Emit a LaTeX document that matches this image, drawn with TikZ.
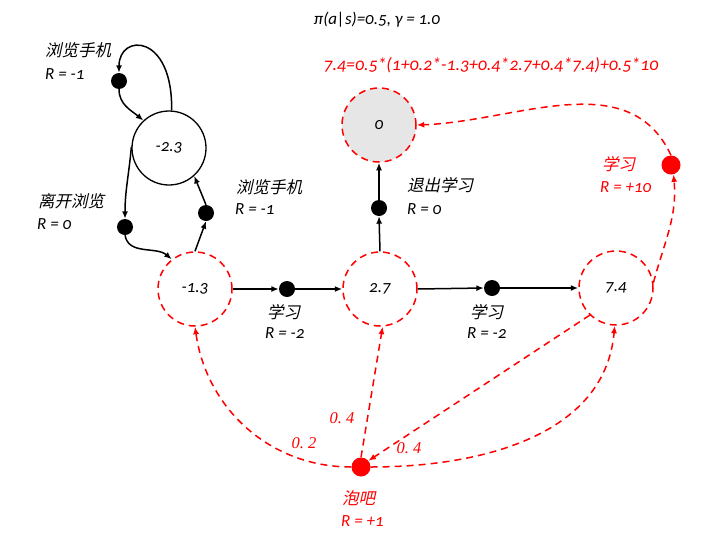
\documentclass[tikz,border=0pt]{standalone}
\usepackage{fontspec}
\setmainfont{Carlito}[Numbers=OldStyle]
\newfontfamily\cjk[FakeSlant=0.22]{Noto Sans CJK SC}
\newfontfamily\lserif{Liberation Serif}
\usetikzlibrary{arrows.meta}
\definecolor{stategray}{RGB}{230,230,230}
\begin{document}
\begin{tikzpicture}[x=1pt,y=1pt,
  font=\fontsize{17}{19}\selectfont\itshape,
  state/.style={circle,draw,line width=1.3pt,minimum size=74pt,inner sep=0pt},
  rstate/.style={state,draw=red,line width=1.5pt,dash pattern=on 7pt off 5pt},
  act/.style={circle,fill=black,minimum size=16pt,inner sep=0pt},
  ract/.style={circle,fill=red,minimum size=19pt,inner sep=0pt},
  arr/.style={-{Latex[length=7.5pt,width=6pt]},line width=1.5pt},
  rarr/.style={arr,red,dash pattern=on 7pt off 5pt},
  zh/.style={anchor=west,inner sep=0pt,font=\fontsize{16.5}{18}\selectfont\cjk\upshape},
  rl/.style={anchor=west,inner sep=0pt},
  prob/.style={inner sep=0pt,red,font=\fontsize{16.5}{18}\selectfont\lserif\itshape}
]
\useasboundingbox (0,0) rectangle (719,-546);

% states
\node[state] (s23) at (169,-148) {-2.3};
\node[rstate] (s13) at (195,-289) {-1.3};
\node[rstate] (s27) at (380,-289) {2.7};
\node[rstate] (s74) at (616,-288) {7.4};
\node[rstate,fill=stategray] (s0) at (379,-125) {0};

% action dots
\node[act] (b1) at (119,-81) {};
\node[act] (b2) at (125,-227) {};
\node[act] (b3) at (206,-213) {};
\node[act] (d1) at (287,-289) {};
\node[act] (d2) at (492,-288) {};
\node[act] (q) at (379,-208) {};
\node[ract] (rs) at (671,-165) {};
\node[ract] (pb) at (361,-467) {};

% black edges
\draw[arr] (s23.86) .. controls (173,-33) and (119,-33) .. (b1.north);
\draw[arr] (b1.south) to[out=-90,in=140] (s23.133);
\draw[arr] (s23.178) to[out=-95,in=90] (b2.north);
\draw[arr] (b2.south) to[out=-80,in=140] (s13.128);
\draw[arr] (s13.north) -- (b3.south);
\draw[arr] (b3.north) -- (s23.-48);
\draw[arr] (s13.east) -- (d1.west);
\draw[arr] (d1.east) -- (s27.west);
\draw[arr] (s27.east) -- (d2.west);
\draw[arr] (d2.east) -- (s74.west);
\draw[arr] (s27.north) -- (q.south);
\draw[arr] (q.north) -- (s0.south);

% red edges
\draw[rarr] (s74.8) to[out=75,in=-85] (rs.-75);
\draw[rarr] (rs.north) to[out=115,in=2] (s0.east);
\draw[rarr] (pb.west) to[out=180,in=-82] (s13.south);
\draw[rarr] (pb.north) -- (s27.-86);
\draw[rarr] (s74.226) -- (pb.40);
\draw[rarr] (pb.east) to[out=0,in=-95] (s74.-92);

% labels
\node[zh] at (45,-50) {浏览手机};
\node[rl] at (45,-74) {R = -1};
\node[zh] at (38,-201) {离开浏览};
\node[rl] at (37,-224) {R = 0};
\node[zh] at (236,-187) {浏览手机};
\node[rl] at (235,-209) {R = -1};
\node[zh] at (407,-185) {退出学习};
\node[rl] at (407,-209) {R = 0};
\node[zh] at (267,-312) {学习};
\node[rl] at (265,-333) {R = -2};
\node[zh] at (470,-312) {学习};
\node[rl] at (467,-333) {R = -2};
\node[zh,red] at (602,-164) {学习};
\node[rl,red] at (600,-187) {R = +10};
\node[zh,red] at (342,-498) {泡吧};
\node[rl,red] at (341,-521) {R = +1};

\node[prob] at (304,-443) {0.\ 2};
\node[prob] at (342,-418) {0.\ 4};
\node[prob] at (409,-448) {0.\ 4};

\node (title) at (377,-20) {π(a|s)=0.5, γ = 1.0};
\node[red,font=\fontsize{17.8}{19}\selectfont\itshape] (eq) at (491,-65) {7.4=0.5*(1+0.2*-1.3+0.4*2.7+0.4*7.4)+0.5*10};
\end{tikzpicture}
\end{document}
